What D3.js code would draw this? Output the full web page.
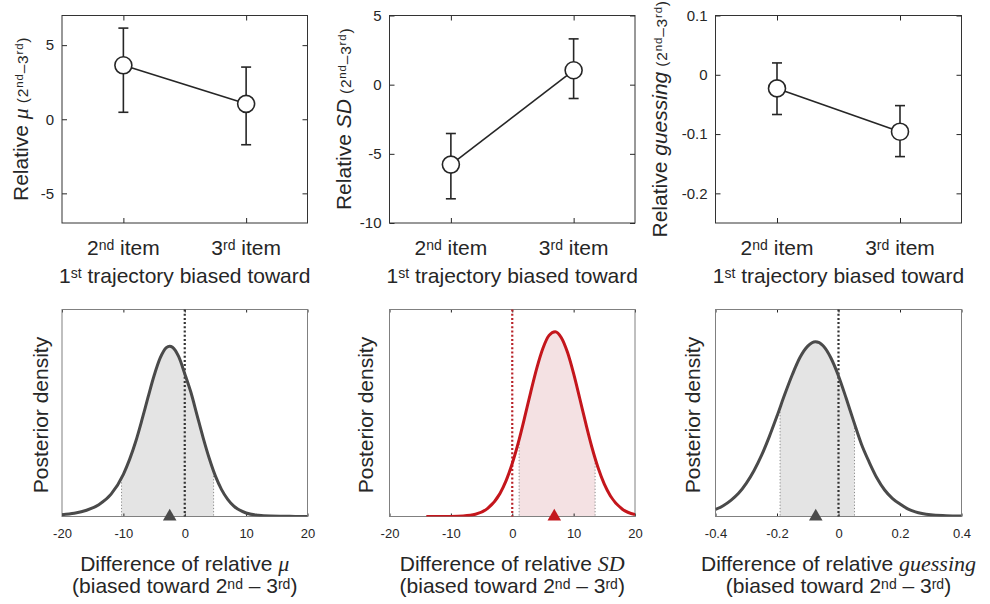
<!DOCTYPE html>
<html>
<head>
<meta charset="utf-8">
<script src="https://cdn.jsdelivr.net/npm/d3@7"></script>
<style>
  body { margin: 0; background: #fff; }
  svg { font-family: "Liberation Sans", Arial, sans-serif; }
</style>
</head>
<body>
<script>
// --- top row: relative parameter (2nd - 3rd) by which item the 1st trajectory was biased toward
const items = ["2nd", "3rd"];
const muMean = [3.64, 1.04], muLo = [0.47, -1.72], muHi = [6.15, 3.52];
const sdMean = [-5.78, 1.04], sdLo = [-8.25, -1.0], sdHi = [-3.53, 3.31];
const gsMean = [-0.023, -0.096], gsLo = [-0.067, -0.138], gsHi = [0.02, -0.052];
const muTicks = [-5, 0, 5], sdTicks = [-10, -5, 0, 5], gsTicks = [-0.2, -0.1, 0, 0.1];

// --- bottom row: posterior density of the difference (heights as fraction of the axes)
const muDiffX = [-20, -18, -16, -14, -12, -10, -8, -7, -6, -5, -4, -3, -2.45, -2, -1, 0, 1, 2, 3, 4, 5, 6, 7, 8, 10, 12, 14, 16, 18, 20];
const muDiffD = [0.009, 0.016, 0.03, 0.057, 0.108, 0.204, 0.361, 0.464, 0.574, 0.68, 0.766, 0.816, 0.823, 0.818, 0.773, 0.69, 0.6, 0.49, 0.38, 0.28, 0.195, 0.13, 0.083, 0.05, 0.017, 0.006, 0.002, 0.001, 0.0005, 0.0003];
const muHdi = [-10.3, 4.7], muMode = -2.45;

const sdDiffX = [-14, -12, -10, -8, -6, -4, -2, -1, 0, 1, 2, 3, 4, 5, 6, 7, 8, 9, 10, 11, 12, 13, 14, 15, 16, 18, 20];
const sdDiffD = [0, 0.0001, 0.0005, 0.0026, 0.011, 0.039, 0.111, 0.173, 0.256, 0.358, 0.476, 0.6, 0.717, 0.813, 0.875, 0.893, 0.864, 0.793, 0.69, 0.57, 0.447, 0.332, 0.234, 0.156, 0.099, 0.034, 0.0095];
const sdHdi = [1.12, 13.5], sdMode = 6.85;

const gsDiffX = [-0.4, -0.375, -0.35, -0.325, -0.3, -0.275, -0.25, -0.225, -0.2, -0.175, -0.15, -0.125, -0.1, -0.075, -0.05, -0.025, 0, 0.025, 0.05, 0.075, 0.1, 0.125, 0.15, 0.175, 0.2, 0.225, 0.25, 0.3, 0.35, 0.4];
const gsDiffD = [0.034, 0.052, 0.078, 0.112, 0.16, 0.221, 0.296, 0.386, 0.485, 0.589, 0.686, 0.769, 0.823, 0.844, 0.825, 0.767, 0.679, 0.571, 0.457, 0.348, 0.262, 0.186, 0.128, 0.088, 0.06, 0.037, 0.022, 0.008, 0.004, 0.002];
const gsHdi = [-0.19, 0.052], gsMode = -0.074;

const diffTicks = [-20, -10, 0, 10, 20], gsDiffTicks = [-0.4, -0.2, 0, 0.2, 0.4];

const svg = d3.select("body").append("svg").attr("width", 990).attr("height", 604);
const defs = svg.append("defs");

const cols = [[62, 307.5], [389.5, 635], [715.5, 961.5]];
const topY = [15.5, 223], botY = [309.5, 516.5];
const ink = "#262626";

// text with superscripts / italic pieces
function rich(text, parts) {
  let shift = 0;
  parts.forEach(p => {
    const ts = text.append("tspan").text(p.t);
    if (p.size) ts.attr("font-size", p.size);
    if (p.it) ts.attr("font-style", "italic");
    if (p.serif) ts.attr("font-family", "'Liberation Serif', 'Times New Roman', serif");
    if (p.ls) ts.attr("letter-spacing", p.ls);
    const want = p.up || 0;
    if (want !== shift) { ts.attr("dy", shift - want); shift = want; }
  });
  return text;
}

function topPanel(k, means, los, his, domain, ticks, ylabParts, ylabX) {
  const col = cols[k];
  const g = svg.append("g");
  const x = d3.scalePoint().domain(items).range(col).padding(0.5);
  const y = d3.scaleLinear().domain(domain).range([topY[1], topY[0]]);

  g.append("g").attr("transform", `translate(${col[0]},0)`)
    .call(d3.axisLeft(y).tickValues(ticks).tickSize(-5).tickPadding(8).tickFormat(d => String(d)))
    .call(a => a.select(".domain").remove())
    .attr("font-size", 15).attr("font-family", null).attr("color", ink);
  g.append("g").attr("transform", `translate(${col[1]},0)`)
    .call(d3.axisRight(y).tickValues(ticks).tickSize(-5).tickFormat(""))
    .call(a => a.select(".domain").remove()).attr("color", ink);
  g.append("g").attr("transform", `translate(0,${topY[1]})`)
    .call(d3.axisBottom(x).tickSize(-5).tickFormat(""))
    .call(a => a.select(".domain").remove()).attr("color", ink);
  g.append("g").attr("transform", `translate(0,${topY[0]})`)
    .call(d3.axisTop(x).tickSize(-5).tickFormat(""))
    .call(a => a.select(".domain").remove()).attr("color", ink);

  g.append("rect").attr("x", col[0]).attr("y", topY[0])
    .attr("width", col[1] - col[0]).attr("height", topY[1] - topY[0])
    .attr("fill", "none").attr("stroke", "#333").attr("stroke-width", 1);

  // x category labels
  items.forEach(it => {
    rich(g.append("text").attr("x", x(it)).attr("y", 255).attr("text-anchor", "middle")
      .attr("font-size", 21).attr("fill", ink),
      [{ t: it[0] }, { t: it.slice(1), size: 14, up: 5 }, { t: " item" }]);
  });
  rich(g.append("text").attr("x", (col[0] + col[1]) / 2).attr("y", 283).attr("text-anchor", "middle")
    .attr("font-size", 21).attr("fill", ink),
    [{ t: "1" }, { t: "st", size: 14, up: 5 }, { t: " trajectory biased toward" }]);

  rich(g.append("text").attr("transform", `translate(${ylabX},${(topY[0] + topY[1]) / 2}) rotate(-90)`)
    .attr("text-anchor", "middle").attr("font-size", 21).attr("fill", ink), ylabParts);

  // error bars
  const cap = 5;
  const eb = g.append("g").attr("stroke", ink).attr("stroke-width", 1.6);
  items.forEach((it, i) => {
    eb.append("line").attr("x1", x(it)).attr("x2", x(it)).attr("y1", y(los[i])).attr("y2", y(his[i]));
    eb.append("line").attr("x1", x(it) - cap).attr("x2", x(it) + cap).attr("y1", y(los[i])).attr("y2", y(los[i]));
    eb.append("line").attr("x1", x(it) - cap).attr("x2", x(it) + cap).attr("y1", y(his[i])).attr("y2", y(his[i]));
  });
  g.append("path").datum(means)
    .attr("d", d3.line().x((d, i) => x(items[i])).y(d => y(d)))
    .attr("fill", "none").attr("stroke", ink).attr("stroke-width", 1.6);
  g.selectAll("circle.pt").data(means).join("circle")
    .attr("cx", (d, i) => x(items[i])).attr("cy", d => y(d)).attr("r", 8.5)
    .attr("fill", "#fff").attr("stroke", ink).attr("stroke-width", 1.6);
}

function botPanel(k, xs, dens, hdi, mode, domain, ticks, colr, word) {
  const col = cols[k];
  const g = svg.append("g");
  const x = d3.scaleLinear().domain(domain).range(col);
  const y = d3.scaleLinear().domain([0, 1]).range([botY[1], botY[0]]);
  const pts = xs.map((v, i) => [v, dens[i]]);
  const area = d3.area().x(d => x(d[0])).y0(y(0)).y1(d => y(d[1])).curve(d3.curveMonotoneX);
  const line = d3.line().x(d => x(d[0])).y(d => y(d[1])).curve(d3.curveMonotoneX);

  defs.append("clipPath").attr("id", "under" + k).append("path").attr("d", area(pts));
  defs.append("clipPath").attr("id", "box" + k).append("rect")
    .attr("x", col[0]).attr("y", botY[0]).attr("width", col[1] - col[0]).attr("height", botY[1] - botY[0]);

  // HDI shading and its bounds
  const hg = g.append("g").attr("clip-path", `url(#under${k})`);
  hg.append("rect").attr("x", x(hdi[0])).attr("width", x(hdi[1]) - x(hdi[0]))
    .attr("y", botY[0]).attr("height", botY[1] - botY[0]).attr("fill", colr.fill);
  hdi.forEach(v => hg.append("line").attr("x1", x(v)).attr("x2", x(v)).attr("y1", botY[0]).attr("y2", botY[1])
    .attr("stroke", "#8a8a8a").attr("stroke-width", 1).attr("stroke-dasharray", "1.2,2"));

  g.append("g").attr("transform", `translate(0,${botY[1]})`)
    .call(d3.axisBottom(x).tickValues(ticks).tickSize(-3).tickPadding(12).tickFormat(d => String(d)))
    .call(a => a.select(".domain").remove())
    .attr("font-size", 13).attr("font-family", null).attr("color", ink);
  g.append("g").attr("transform", `translate(0,${botY[0]})`)
    .call(d3.axisTop(x).tickValues(ticks).tickSize(-3).tickFormat(""))
    .call(a => a.select(".domain").remove()).attr("color", ink);
  g.append("rect").attr("x", col[0]).attr("y", botY[0])
    .attr("width", col[1] - col[0]).attr("height", botY[1] - botY[0])
    .attr("fill", "none").attr("stroke", "#808080").attr("stroke-width", 1);

  // zero reference
  g.append("line").attr("x1", x(0)).attr("x2", x(0)).attr("y1", botY[0]).attr("y2", botY[1])
    .attr("stroke", colr.zero).attr("stroke-width", 2.2).attr("stroke-dasharray", "2,2.2");

  g.append("path").attr("clip-path", `url(#box${k})`).attr("d", line(pts))
    .attr("fill", "none").attr("stroke", colr.line).attr("stroke-width", 3);

  g.append("path").attr("d", d3.symbol(d3.symbolTriangle, 80)())
    .attr("transform", `translate(${x(mode)},${y(0)})`).attr("fill", colr.line);

  rich(g.append("text").attr("transform", `translate(${[48, 373, 700][k]},${(botY[0] + botY[1]) / 2 + 2}) rotate(-90)`)
    .attr("text-anchor", "middle").attr("font-size", 21).attr("fill", ink), [{ t: "Posterior density" }]);

  const cx = (col[0] + col[1]) / 2;
  rich(g.append("text").attr("x", cx).attr("y", 571).attr("text-anchor", "middle")
    .attr("font-size", 21).attr("fill", ink),
    [{ t: "Difference of relative " }, { t: word, it: true, serif: true, size: 22 }]);
  rich(g.append("text").attr("x", cx).attr("y", 593).attr("text-anchor", "middle")
    .attr("font-size", 21).attr("fill", ink),
    [{ t: "(biased toward 2" }, { t: "nd", size: 14, up: 4.5 }, { t: " – 3" }, { t: "rd", size: 14, up: 4.5 }, { t: ")" }]);
}

function paren() {
  const size = 15.5, sup = 11.5, up = 5, ls = 0.8;
  return [{ t: " (2", size, ls }, { t: "nd", size: sup, up, ls }, { t: "–3", size, ls }, { t: "rd", size: sup, up, ls }, { t: ")", size }];
}

topPanel(0, muMean, muLo, muHi, [-7, 7], muTicks,
  [{ t: "Relative " }, { t: "μ", it: true, serif: true, size: 22 }].concat(paren()), 28);
topPanel(1, sdMean, sdLo, sdHi, [-10, 5], sdTicks,
  [{ t: "Relative " }, { t: "SD", it: true }].concat(paren()), 351);
topPanel(2, gsMean, gsLo, gsHi, [-0.25, 0.1], gsTicks,
  [{ t: "Relative " }, { t: "guessing", it: true }].concat(paren()), 666.5);

const grey = { line: "#4a4a4a", fill: "#e4e4e4", zero: "#333" };
const red = { line: "#c4161c", fill: "#f4e1e3", zero: "#b8242a" };
botPanel(0, muDiffX, muDiffD, muHdi, muMode, [-20, 20], diffTicks, grey, "μ");
botPanel(1, sdDiffX, sdDiffD, sdHdi, sdMode, [-20, 20], diffTicks, red, "SD");
botPanel(2, gsDiffX, gsDiffD, gsHdi, gsMode, [-0.4, 0.4], gsDiffTicks, grey, "guessing");
</script>
</body>
</html>
